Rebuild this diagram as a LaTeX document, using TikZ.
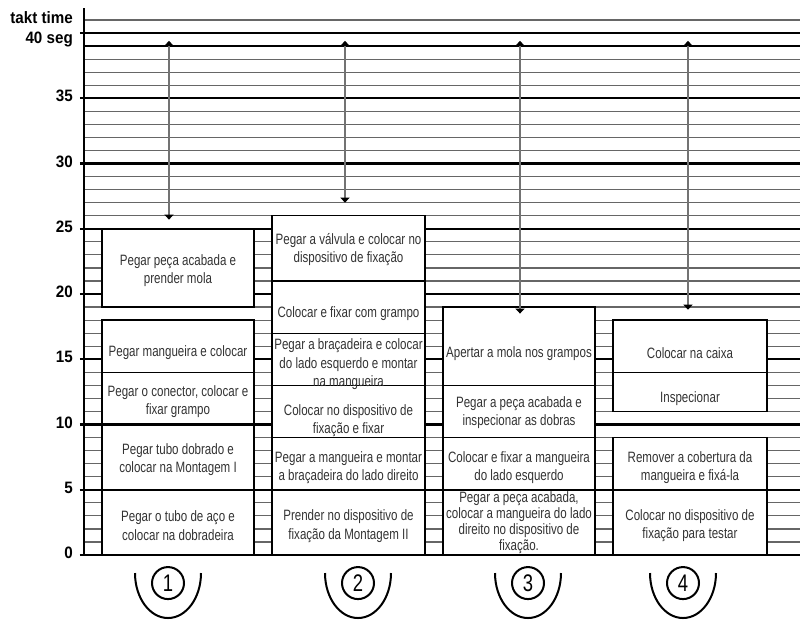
\documentclass[tikz,border=0pt]{standalone}
\usepackage{fontspec}
\setmainfont{Liberation Sans}
\newfontfamily\caixafont{Liberation Sans}[FakeStretch=0.77]
\newfontfamily\eixofont{Liberation Sans}[FakeStretch=0.92]
\usetikzlibrary{arrows.meta}

\tikzset{
  tarefa/.style={draw=black, line width=1.3pt, fill=white},
  texto/.style={font=\caixafont\fontsize{15}{18.5}\selectfont, text=black!80, align=center, inner sep=0pt},
  eixo/.style={font=\eixofont\bfseries\fontsize{16.5}{16.5}\selectfont, anchor=east, inner sep=0pt},
  seta/.style={draw=black!55, line width=1.3pt, {Triangle[width=9pt,length=5pt,color=black]}-{Triangle[width=9pt,length=5pt,color=black]}},
  posto/.style={font=\caixafont\fontsize{24}{24}\selectfont, circle, draw, line width=2pt, minimum size=32pt, inner sep=0pt}
}

\begin{document}
\begin{tikzpicture}[x=1pt,y=13.05pt]
\useasboundingbox (-84,-4.98) rectangle (719,42.53);

\draw[black!60, line width=1.2pt, xstep=1000, ystep=1] (0,0) grid (716,41);
\draw[black, line width=1.6pt] (0,39) -- (716,39);
\draw[black, line width=2.4pt, xstep=1000, ystep=5] (-4,0) grid (716,40);
\draw[black, line width=2.4pt] (0,0) -- (0,41.9);

\draw[tarefa] (18,19) rectangle (170,25);
\draw[tarefa] (18,14) rectangle (170,18);
\draw[tarefa] (18,10) rectangle (170,14);
\draw[tarefa] (18,5) rectangle (170,10);
\draw[tarefa] (18,0) rectangle (170,5);

\draw[tarefa] (188,21) rectangle (341,26);
\draw[tarefa] (188,17) rectangle (341,21);
\draw[tarefa] (188,13) rectangle (341,17);
\draw[tarefa] (188,9) rectangle (341,13);
\draw[tarefa] (188,5) rectangle (341,9);
\draw[tarefa] (188,0) rectangle (341,5);

\draw[tarefa] (359,13) rectangle (511,19);
\draw[tarefa] (359,9) rectangle (511,13);
\draw[tarefa] (359,5) rectangle (511,9);
\draw[tarefa] (359,0) rectangle (511,5);

\draw[tarefa] (529,14) rectangle (683,18);
\draw[tarefa] (529,11) rectangle (683,14);
\draw[tarefa] (529,5) rectangle (683,9);
\draw[tarefa] (529,0) rectangle (683,5);

\draw[black, line width=2.4pt] (-4,0) -- (716,0);
\draw[black, line width=2.4pt] (-4,5) -- (716,5);
\draw[black, line width=2.4pt] (0,10) -- (188,10);
\draw[black, line width=2.4pt] (0,25) -- (188,25);

\node[texto] (t1a) at (94,21.8) {Pegar peça acabada e\\prender mola};
\node[texto] (t1b) at (94,15.5) {Pegar mangueira e colocar};
\node[texto] (t1c) at (94,11.75) {Pegar o conector, colocar e\\fixar grampo};
\node[texto] (t1d) at (94,7.3) {Pegar tubo dobrado e\\colocar na Montagem I};
\node[texto] (t1e) at (94,2.25) {Pegar o tubo de aço e\\colocar na dobradeira};

\node[texto] (t2a) at (264.5,23.4) {Pegar a válvula e colocar no\\dispositivo de fixação};
\node[texto] (t2b) at (264.5,18.5) {Colocar e fixar com grampo};
\node[texto] (t2c) at (264.5,14.6) {Pegar a braçadeira e colocar\\do lado esquerdo e montar\\na mangueira};
\node[texto] (t2d) at (264.5,10.3) {Colocar no dispositivo de\\fixação e fixar};
\node[texto] (t2e) at (264.5,6.7) {Pegar a mangueira e montar\\a braçadeira do lado direito};
\node[texto] (t2f) at (264.5,2.2) {Prender no dispositivo de\\fixação da Montagem II};

\node[texto] (t3a) at (435,15.4) {Apertar a mola nos grampos};
\node[texto] (t3b) at (435,10.9) {Pegar a peça acabada e\\inspecionar as dobras};
\node[texto] (t3c) at (435,6.7) {Colocar e fixar a mangueira\\do lado esquerdo};
\node[texto, font=\caixafont\fontsize{15}{16}\selectfont] (t3d) at (435,2.5) {Pegar a peça acabada,\\colocar a mangueira do lado\\direito no dispositivo de\\fixação.};

\node[texto] (t4a) at (606,15.5) {Colocar na caixa};
\node[texto] (t4b) at (606,12) {Inspecionar};
\node[texto] (t4c) at (606,6.7) {Remover a cobertura da\\mangueira e fixá-la};
\node[texto] (t4d) at (606,2.25) {Colocar no dispositivo de\\fixação para testar};

\coordinate (seta1a) at (85,39.4);
\coordinate (seta1b) at (85,25.7);
\coordinate (seta2a) at (261,39.4);
\coordinate (seta2b) at (261,27);
\coordinate (seta3a) at (436,39.4);
\coordinate (seta3b) at (436,18.5);
\coordinate (seta4a) at (604,39.4);
\coordinate (seta4b) at (604,18.8);
\draw[seta] (seta1a) -- (seta1b);
\draw[seta] (seta2a) -- (seta2b);
\draw[seta] (seta3a) -- (seta3b);
\draw[seta] (seta4a) -- (seta4b);

\node[eixo] (takt) at (-11,41.15) {takt time};
\node[eixo] (seg) at (-11,39.5) {40 seg};
\foreach \n in {0,5,...,35}
  \node[eixo] (n\n) at (-11,\n+0.15) {\n};

\foreach \n/\cx in {1/84,2/274,3/444,4/599} {
  \node[posto] (p\n) at (\cx,-2.15) {\n};
  \draw[line width=2pt] (\cx-33,-1.38) arc[start angle=180, end angle=360, x radius=33pt, y radius=45pt];
}
\end{tikzpicture}
\end{document}
